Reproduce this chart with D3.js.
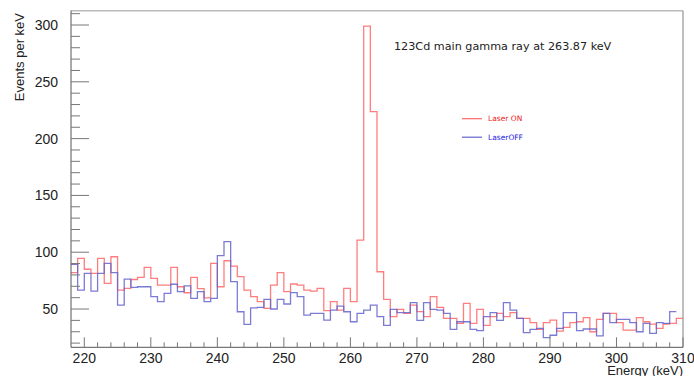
<!DOCTYPE html>
<html><head><meta charset="utf-8">
<script src="https://cdn.jsdelivr.net/npm/d3@7"></script>
<style>body{margin:0;background:#fff}svg{display:block}</style>
</head><body>
<svg id="c" width="694" height="376"></svg>
<script>
// bin low edges in keV (1 keV bins, 218..309)
const binStart = 218, binEnd = 310;
const laserOn = [82,94.6,85,81.4,94.6,72.6,96,66.7,68.2,76,77.8,86.6,77,71,71,86.6,69.6,64.3,77.8,68,59.8,90.2,69.6,92.5,
 87.8,78.5,66.7,60.9,56.5,50.6,71.1,82,65.3,72,71.1,66.7,65.8,68.2,48.5,56.5,49.1,68.2,56.5,110.7,299,223.7,82.8,
 58.5,43.3,49.6,46.2,53.5,47.7,43.3,60.9,51.5,41.8,41.8,37.4,55,37.4,49.6,35.6,43.3,46.2,43.3,46.8,41.8,41.8,
 38,32.1,38,40.3,30.6,33.9,38,38.8,42.4,30,40.9,46.2,46.2,38,31.5,31.5,42.4,38.8,36.7,32.9,36.7,37.4,41.8];
const laserOff = [89.3,66.7,81.4,65.8,81.4,90.2,82,53.5,76.3,69,69.6,69.6,60.9,56.5,63.8,71.8,65.3,70.4,59.4,65.3,56.5,59.4,97,
 109.3,74.1,47.6,36.5,51,51.4,58.5,50,58.5,54.4,64.4,60.9,44.7,46.2,46.2,40.3,49.1,52.6,47.6,38.8,46.2,49.1,53.5,
 43.3,35.6,49.6,46.8,46.8,55.6,40,55.6,49.6,49.1,46.2,32.1,38.8,38.8,32.1,30.9,43.3,46.8,40,55.6,49.1,41.8,
 29.2,32.1,33,24.8,26.9,33,46.8,46.8,30.9,32.4,32.4,26.3,46.2,38,40.9,40.9,38,30,37.4,28.6,38,37.4,47.7];
const yMajor = [50,100,150,200,250,300];
const xMajor = [220,230,240,250,260,270,280,290,300,310];
const titleText = "123Cd main gamma ray at 263.87 keV";
const legendLabels = ["Laser ON","LaserOFF"];
const colors = ["#ff6666","#6464cc"];

const L=71, R=683, T=10.7, B=347.3;
const x = d3.scaleLinear().domain([binStart, binEnd]).range([L, R]);
const y = d3.scaleLinear().domain([16.3, 312.6]).range([B, T]);
const svg = d3.select("#c");

function stepPts(vals){
  const pts = vals.map((v,i)=>[binStart+i, v]);
  pts.push([binStart+vals.length, vals[vals.length-1]]);
  return pts;
}
const line = d3.line().x(d=>x(d[0])).y(d=>y(d[1])).curve(d3.curveStepAfter);

// frame
svg.append("line").attr("x1",L).attr("x2",R).attr("y1",T).attr("y2",T).attr("stroke","#bbb").attr("stroke-width",1.5);
svg.append("line").attr("x1",R).attr("x2",R).attr("y1",T).attr("y2",B).attr("stroke","#aaa").attr("stroke-width",1.5);

svg.append("defs").append("clipPath").attr("id","pc").append("rect")
  .attr("x",L).attr("y",T).attr("width",R-L).attr("height",B-T);
const g = svg.append("g").attr("clip-path","url(#pc)");
g.append("path").attr("d",line(stepPts(laserOn))).attr("fill","none").attr("stroke",colors[0]).attr("stroke-width",1.3).attr("opacity",0.85);
g.append("path").attr("d",line(stepPts(laserOff))).attr("fill","none").attr("stroke",colors[1]).attr("stroke-width",1.3).attr("opacity",0.85);

// axes
const axG = svg.append("g").attr("stroke","#777").attr("stroke-width",1);
axG.append("line").attr("x1",L).attr("x2",L).attr("y1",T).attr("y2",B).attr("stroke","#555");
axG.append("line").attr("x1",L).attr("x2",R).attr("y1",B).attr("y2",B).attr("stroke","#555");
d3.range(20,311,10).forEach(v=>{
  const maj = v%50===0;
  axG.append("line").attr("x1",L).attr("x2",L+(maj?18:9)).attr("y1",y(v)).attr("y2",y(v));
});
d3.range(220,311,2).forEach(v=>{
  const maj = v%10===0;
  axG.append("line").attr("x1",x(v)).attr("x2",x(v)).attr("y1",B).attr("y2",B-(maj?10:5));
});
const lab = svg.append("g").attr("font-family","Liberation Sans, Arial, sans-serif").attr("font-size",14).attr("fill","#222");
yMajor.forEach(v=>lab.append("text").attr("x",58).attr("y",y(v)+5).attr("text-anchor","end").text(v));
xMajor.forEach(v=>lab.append("text").attr("x",x(v)).attr("y",363).attr("text-anchor","middle").text(v));
lab.append("text").attr("x",683).attr("y",375).attr("text-anchor","end").attr("font-size",13).text("Energy (keV)");
lab.append("text").attr("transform","translate(24,13) rotate(-90)").attr("text-anchor","end").attr("font-size",13).text("Events per keV");

svg.append("text").attr("x",394).attr("y",50).attr("font-family","DejaVu Sans, Verdana, sans-serif").attr("font-size",11.2).attr("fill","#222").text(titleText);

legendLabels.forEach((t,i)=>{
  const yy = 118.7 + i*18.5;
  svg.append("line").attr("x1",462).attr("x2",482).attr("y1",yy).attr("y2",yy).attr("stroke",colors[i]).attr("stroke-width",1.2);
  svg.append("text").attr("x",488).attr("y",yy+2.5).attr("font-family","DejaVu Sans, Verdana, sans-serif").attr("font-size",7.5).attr("fill",i===0?"#ee2222":"#2222dd").text(t);
});
</script>
</body></html>
